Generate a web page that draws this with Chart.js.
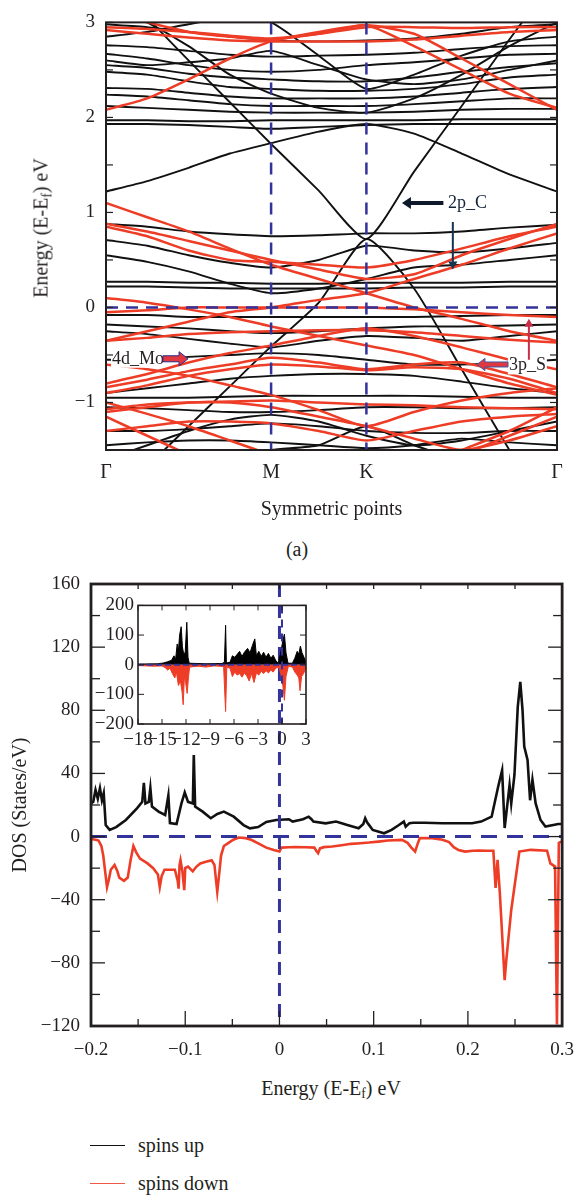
<!DOCTYPE html>
<html>
<head>
<meta charset="utf-8">
<script src="https://cdn.jsdelivr.net/npm/chart.js@4.4.1/dist/chart.umd.min.js"></script>
<style>
  body { margin: 0; width: 587px; height: 1198px; position: relative; background: #fff; overflow: hidden;
         font-family: "Liberation Serif", "DejaVu Serif", serif; color: #231f20; }
  .box { position: absolute; }
  .lbl { position: absolute; font-size: 20px; white-space: nowrap; transform: translate(-50%, -50%); }
  .lbl.rot { transform: translate(-50%, -50%) rotate(-90deg); }
  sub { font-size: 68%; vertical-align: -0.28em; line-height: 0; }
  .key { position: absolute; left: 90px; width: 35px; height: 0; }
  .keytext { position: absolute; left: 138px; font-size: 20px; transform: translateY(-50%); }
</style>
</head>
<body>
<div class="box" style="left:0;top:0;width:587px;height:530px"><canvas id="bands"></canvas></div>
<div class="lbl rot" style="left:41px;top:228px">Energy (E-E<sub>f</sub>) eV</div>
<div class="lbl" style="left:297px;top:549px">(a)</div>

<div class="box" style="left:0;top:560px;width:587px;height:506px"><canvas id="dos"></canvas></div>
<div class="box" style="left:86px;top:590px;width:231px;height:164px"><canvas id="inset"></canvas></div>
<div class="lbl" style="left:331px;top:1088px">Energy (E-E<sub>f</sub>) eV</div>

<div class="key" style="top:1145px;border-top:1.5px solid #111"></div>
<div class="keytext" style="top:1145px">spins up</div>
<div class="key" style="top:1183px;border-top:1.5px solid #ee5a45"></div>
<div class="keytext" style="top:1183px">spins down</div>

<script>
// ---- band structure: k path and band energies (eV) ----
const kPath = [0, 0.1443, 0.2887, 0.4330, 0.5774, 0.7440, 0.9107, 1.0774, 1.2440, 1.4107, 1.5773];
const symK = [0, 0.5774, 0.9107, 1.5773];
const symLabels = ['Γ', 'M', 'K', 'Γ'];

const blackBands = [
  [3.5, 3.05, 2.6, 2.16, 1.72, 1.23, 0.72, 1.43, 2.12, 2.82, 3.5],
  [-2.0, -1.67, -1.25, -0.83, -0.41, 0.05, 0.72, 0.2, -0.65, -1.5, -2.3],
  [1.22, 1.33, 1.47, 1.62, 1.73, 1.85, 1.93, 1.83, 1.62, 1.4, 1.22],
  [2.98, 2.95, 2.9, 2.85, 2.81, 2.8, 2.81, 2.83, 2.88, 2.95, 2.98],
  [2.76, 2.74, 2.7, 2.66, 2.64, 2.65, 2.66, 2.68, 2.72, 2.75, 2.76],
  [2.67, 2.62, 2.55, 2.5, 2.48, 2.5, 2.55, 2.58, 2.62, 2.66, 2.67],
  [2.55, 2.52, 2.46, 2.42, 2.4, 2.38, 2.38, 2.42, 2.48, 2.53, 2.57],
  [2.48, 2.45, 2.38, 2.32, 2.3, 2.28, 2.28, 2.3, 2.35, 2.42, 2.45],
  [2.31, 2.3, 2.26, 2.22, 2.2, 2.2, 2.2, 2.22, 2.26, 2.3, 2.32],
  [2.24, 2.22, 2.18, 2.14, 2.12, 2.12, 2.12, 2.14, 2.17, 2.2, 2.2],
  [2.12, 2.1, 2.08, 2.06, 2.05, 2.05, 2.05, 2.06, 2.08, 2.09, 2.09],
  [1.97, 1.97, 1.96, 1.96, 1.97, 1.97, 1.97, 1.97, 1.98, 1.98, 1.98],
  [1.93, 1.93, 1.92, 1.9, 1.88, 1.9, 1.92, 1.93, 1.93, 1.93, 1.93],
  [3.2, 3.0, 2.75, 2.45, 2.25, 2.1, 2.05, 2.2, 2.45, 2.75, 3.0],
  [2.85, 2.9, 2.98, 3.05, 3.0, 2.65, 2.3, 2.45, 2.65, 2.8, 2.85],
  [2.6, 2.55, 2.58, 2.62, 2.7, 2.55, 2.4, 2.35, 2.4, 2.5, 2.6],
  [0.88, 0.85, 0.8, 0.77, 0.75, 0.76, 0.78, 0.78, 0.8, 0.84, 0.87],
  [0.71, 0.65, 0.55, 0.47, 0.42, 0.5, 0.65, 0.6, 0.58, 0.62, 0.68],
  [0.55, 0.48, 0.38, 0.25, 0.15, 0.2, 0.3, 0.42, 0.45, 0.5, 0.55],
  [0.27, 0.27, 0.26, 0.26, 0.25, 0.25, 0.26, 0.26, 0.26, 0.27, 0.27],
  [0.22, 0.22, 0.21, 0.2, 0.2, 0.2, 0.2, 0.21, 0.21, 0.22, 0.22],
  [-0.08, -0.08, -0.1, -0.1, -0.1, -0.1, -0.1, -0.1, -0.09, -0.08, -0.08],
  [-0.18, -0.2, -0.22, -0.25, -0.27, -0.25, -0.22, -0.2, -0.2, -0.19, -0.18],
  [-0.25, -0.28, -0.33, -0.38, -0.42, -0.35, -0.3, -0.32, -0.35, -0.3, -0.25],
  [-0.55, -0.55, -0.52, -0.5, -0.48, -0.5, -0.55, -0.6, -0.6, -0.58, -0.55],
  [-0.9, -0.85, -0.8, -0.75, -0.72, -0.7, -0.7, -0.72, -0.78, -0.85, -0.9],
  [-0.95, -0.95, -0.95, -0.94, -0.93, -0.93, -0.93, -0.93, -0.94, -0.95, -0.95],
  [-1.6, -1.45, -1.3, -1.18, -1.13, -1.2, -1.35, -1.45, -1.4, -1.3, -1.2],
  [-1.05, -1.06, -1.08, -1.1, -1.1, -1.08, -1.05, -1.05, -1.06, -1.06, -1.05],
  [-1.3, -1.3, -1.28, -1.25, -1.22, -1.25, -1.3, -1.32, -1.32, -1.3, -1.3],
  [-1.9, -1.8, -1.7, -1.6, -1.5, -1.45, -1.25, -1.45, -1.6, -1.7, -1.8],
  [-1.45, -1.42, -1.4, -1.4, -1.42, -1.45, -1.48, -1.45, -1.38, -1.42, -1.45]
];

const redBands = [
  [2.92, 2.88, 2.84, 2.81, 2.8, 2.8, 2.8, 2.82, 2.86, 2.9, 2.92],
  [2.95, 2.93, 2.9, 2.86, 2.83, 2.88, 2.95, 2.95, 2.94, 2.95, 2.95],
  [2.08, 2.2, 2.4, 2.62, 2.8, 2.9, 2.97, 2.88, 2.62, 2.35, 2.08],
  [3.1, 3.0, 2.9, 2.85, 2.82, 2.88, 2.97, 2.75, 2.5, 2.25, 2.1],
  [0.88, 0.8, 0.7, 0.6, 0.5, 0.4, 0.3, 0.35, 0.55, 0.72, 0.88],
  [0.85, 0.75, 0.6, 0.5, 0.48, 0.45, 0.42, 0.5, 0.62, 0.75, 0.85],
  [1.1, 0.95, 0.8, 0.62, 0.45, 0.3, 0.15, 0.0, -0.12, -0.25, -0.35],
  [-0.35, -0.25, -0.15, -0.05, 0.0, 0.08, 0.15, 0.3, 0.45, 0.62, 0.78],
  [-0.05, -0.03, 0.0, 0.0, 0.0, 0.0, 0.0, -0.02, -0.05, -0.08, -0.1],
  [-0.35, -0.32, -0.28, -0.26, -0.25, -0.24, -0.24, -0.26, -0.3, -0.34, -0.37],
  [-0.8, -0.7, -0.58, -0.48, -0.4, -0.3, -0.22, -0.3, -0.42, -0.55, -0.65],
  [-0.84, -0.76, -0.67, -0.6, -0.53, -0.58, -0.65, -0.6, -0.58, -0.7, -0.84],
  [-0.9, -0.82, -0.72, -0.65, -0.6, -0.62, -0.66, -0.63, -0.65, -0.75, -0.9],
  [-1.0, -1.12, -1.25, -1.4, -1.55, -1.7, -1.85, -1.7, -1.5, -1.3, -1.05],
  [-0.6, -0.65, -0.72, -0.82, -0.92, -1.08, -1.25, -1.1, -0.98, -0.9, -0.85],
  [-1.1, -1.05, -1.0, -1.0, -1.05, -1.15, -1.25, -1.38, -1.5, -1.4, -1.25],
  [-1.07, -1.02, -1.0, -0.99, -0.98, -1.0, -1.02, -1.03, -1.05, -1.06, -1.07],
  [-1.15, -1.35, -1.55, -1.75, -1.9, -1.9, -1.9, -1.75, -1.55, -1.35, -1.15],
  [0.1, 0.05, -0.02, -0.1, -0.2, -0.3, -0.4, -0.5, -0.65, -0.8, -0.92],
  [-1.3, -1.25, -1.2, -1.2, -1.22, -1.3, -1.4, -1.3, -1.2, -1.15, -1.12]
];

// ---- DOS (States/eV) around Ef ----
const dosUpE = [-0.2, -0.1976, -0.1952, -0.1928, -0.1905, -0.1884, -0.1865, -0.1844, -0.1802, -0.1733, -0.163, -0.151,
  -0.1456, -0.1439, -0.1422, -0.1387, -0.137, -0.1353, -0.1283, -0.1213, -0.1179, -0.1162, -0.1092, -0.104, -0.1005,
  -0.097, -0.0919, -0.0909, -0.0895, -0.0815, -0.0729, -0.0659, -0.059, -0.0485, -0.0381, -0.0313, -0.0226, -0.0139,
  -0.0035, 0.01, 0.014, 0.025, 0.031, 0.034, 0.036, 0.049, 0.06, 0.066, 0.072, 0.084, 0.089, 0.091, 0.093, 0.095,
  0.099, 0.111, 0.119, 0.126, 0.132, 0.134, 0.138, 0.142, 0.154, 0.173, 0.193, 0.2044, 0.214, 0.2252, 0.2321, 0.2363,
  0.239, 0.2442, 0.246, 0.2494, 0.2529, 0.2556, 0.258, 0.2598, 0.2633, 0.266, 0.2685, 0.2719, 0.2771, 0.2823, 0.296, 0.3];
const dosUp = [21, 22, 29.5, 24, 30.7, 23, 27.5, 7.3, 4.2, 6, 10.5, 18,
  22, 34, 21, 22, 30.8, 19, 15.8, 13.7, 26, 8.6, 8, 21, 28,
  22, 21, 51.7, 19, 15.8, 11.6, 14.3, 15.8, 12.6, 7.3, 5.2, 6, 9.3,
  10.5, 11, 9.5, 11, 12.6, 11, 9.5, 8.4, 9.5, 8.5, 7.4, 5.3, 8, 11.6, 9, 7.4,
  4.2, 2.1, 4.2, 7, 9.5, 6.3, 8.5, 8.8, 8.8, 8.4, 8.4, 8.4, 9.5, 12.6, 31.6, 42,
  5.4, 32.6, 21, 39, 82, 98, 80, 57, 48.5, 23, 36, 21, 10.5, 6.3, 8, 8];

const dosDownE = [-0.2, -0.195, -0.192, -0.189, -0.187, -0.185, -0.183, -0.181, -0.179, -0.175, -0.172, -0.17, -0.165,
  -0.161, -0.158, -0.155, -0.152, -0.148, -0.14, -0.134, -0.129, -0.127, -0.125, -0.122, -0.115, -0.111, -0.108, -0.107,
  -0.106, -0.105, -0.103, -0.101, -0.1, -0.097, -0.092, -0.088, -0.084, -0.078, -0.072, -0.069, -0.066, -0.064, -0.062,
  -0.059, -0.054, -0.049, -0.043, -0.036, -0.03, -0.022, -0.014, -0.006, 0, 0.002, 0.01, 0.017, 0.028, 0.037, 0.039,
  0.041, 0.043, 0.047, 0.056, 0.066, 0.076, 0.086, 0.095, 0.105, 0.115, 0.13, 0.136, 0.14, 0.144, 0.147, 0.149, 0.162,
  0.173, 0.18, 0.185, 0.19, 0.197, 0.205, 0.212, 0.22, 0.227, 0.2294, 0.2315, 0.2339, 0.239, 0.2408, 0.246, 0.251,
  0.2546, 0.2667, 0.284, 0.2875, 0.2925, 0.2945, 0.2965, 0.3];
const dosDown = [-1.5, -2, -2.5, -6, -12, -22, -32, -27, -21, -18, -22, -26, -28,
  -26, -15, -6, -10, -14, -17, -20, -24, -32, -25, -21, -21, -21, -28, -33,
  -18, -15, -22, -34, -20, -19, -22, -19, -17, -16, -15, -18, -35, -24, -12,
  -6, -4, -2, -0.6, -1, -2, -4.5, -7, -8.5, -9.5, -7, -6.8, -6.7, -6.8, -7, -9,
  -10.5, -7.5, -6.7, -6.3, -5.5, -4.6, -4.2, -3.8, -3.2, -2.5, -2.1, -4, -7, -9.5, -4, -1, -1,
  -2, -3.5, -6.7, -8.5, -9.5, -9, -8.8, -9, -9, -32.6, -14.8, -35.7, -91, -78, -46.5, -25,
  -9.5, -8.4, -9, -17, -19, -119, -4, -3];

// ---- inset: full energy range ----
const insetUpE = [-18, -15.5, -14.8, -14.3, -13.8, -13.5, -13.3, -13.1, -12.95, -12.8, -12.6, -12.45, -12.3, -12.1,
  -11.9, -11.75, -11.6, -9.5, -7.5, -7.2, -7.05, -6.95, -6.5, -6.2, -5.9, -5.6, -5.3, -5.0, -4.7, -4.3, -4.0, -3.7,
  -3.4, -3.2, -2.9, -2.6, -2.3, -2.0, -1.7, -1.4, -1.1, -0.8, -0.5, -0.2, 0.1, 0.3, 0.5, 0.75, 1.3, 1.6, 1.9, 2.1,
  2.3, 2.5, 2.75, 3.0];
const insetUp = [2, 3, 6, 10, 15, 30, 18, 70, 45, 100, 128, 60, 38, 40,
  143, 25, 5, 3, 4, 8, 133, 6, 8, 30, 25, 35, 45, 28, 42, 55, 40, 65,
  87, 30, 45, 28, 42, 25, 38, 22, 32, 15, 5, 35, 80, 103, 40, 5, 5, 22, 45, 35,
  63, 40, 25, 10];
const insetDownE = [-18, -16, -15, -14.6, -14.3, -14.0, -13.7, -13.4, -13.2, -12.95, -12.7, -12.5, -12.35, -12.2,
  -12.05, -11.85, -11.7, -11.55, -10.5, -9.5, -8.5, -7.3, -7.05, -6.9, -6.5, -6.2, -5.9, -5.6, -5.3, -5.0, -4.7,
  -4.4, -4.1, -3.8, -3.5, -3.2, -2.9, -2.6, -2.3, -2.0, -1.7, -1.4, -1.1, -0.8, -0.4, -0.1, 0.1, 0.3, 0.5, 0.8,
  1.3, 1.6, 1.9, 2.1, 2.25, 2.45, 2.7, 3.0];
const insetDown = [-3, -5, -4, -10, -18, -12, -30, -45, -25, -70, -55, -90, -135, -40,
  -60, -97, -45, -8, -5, -8, -4, -6, -158, -8, -12, -40, -25, -35, -30, -42, -28,
  -38, -55, -30, -60, -28, -35, -22, -30, -20, -28, -18, -25, -12, -8, -35, -70, -120, -40, -5,
  -8, -25, -35, -45, -88, -40, -30, -10];

const RED = '#ee3d26';
const BLUE = '#33339c';
const INK = '#231f20';
Chart.defaults.font.family = '"Liberation Serif", "DejaVu Serif", serif';
Chart.defaults.color = INK;

function fmt(v, dp) {
  const r = Math.round(v * 1000) / 1000;
  if (r === 0) return '0';
  const s = dp ? Math.abs(r).toFixed(dp) : String(Math.abs(r));
  return (r < 0 ? '\u2212' : '') + s;
}

function arrow(ctx, x1, y1, x2, y2, w, fill, edge, head) {
  const ang = Math.atan2(y2 - y1, x2 - x1), len = Math.hypot(x2 - x1, y2 - y1);
  const hw = w / 2 + head * 0.45;
  ctx.save();
  ctx.translate(x1, y1);
  ctx.rotate(ang);
  ctx.beginPath();
  ctx.moveTo(0, -w / 2);
  ctx.lineTo(len - head, -w / 2);
  ctx.lineTo(len - head, -hw);
  ctx.lineTo(len, 0);
  ctx.lineTo(len - head, hw);
  ctx.lineTo(len - head, w / 2);
  ctx.lineTo(0, w / 2);
  ctx.closePath();
  ctx.fillStyle = fill;
  ctx.fill();
  if (edge) { ctx.strokeStyle = edge; ctx.lineWidth = 1; ctx.stroke(); }
  ctx.restore();
}

// frame, inward ticks, dashed reference lines and labels
const frameTicks = {
  id: 'frameTicks',
  afterDatasetsDraw(chart, args, o) {
    const {ctx, chartArea: a} = chart;
    const xs = chart.scales.x, ys = chart.scales.y;
    const seg = (x1, y1, x2, y2) => { ctx.beginPath(); ctx.moveTo(x1, y1); ctx.lineTo(x2, y2); ctx.stroke(); };
    ctx.save();
    ctx.strokeStyle = BLUE;
    ctx.lineWidth = o.refWidth;
    ctx.setLineDash(o.vDash);
    (o.vLines || []).forEach(v => { const p = xs.getPixelForValue(v); seg(p, a.top, p, a.bottom); });
    ctx.setLineDash(o.hDash);
    (o.hLines || []).forEach(v => { const p = ys.getPixelForValue(v); seg(a.left, p, a.right, p); });
    ctx.setLineDash([]);

    (o.notes || []).forEach(n => {
      if (n.text) {
        const px = xs.getPixelForValue(n.at[0]), py = ys.getPixelForValue(n.at[1]);
        ctx.font = '18px "Liberation Serif", serif';
        const w = ctx.measureText(n.text).width;
        ctx.fillStyle = '#fff';
        ctx.fillRect(px - 1, py - 9, w + 2, 18);
        ctx.fillStyle = n.color;
        ctx.textBaseline = 'middle';
        ctx.fillText(n.text, px, py);
      } else {
        arrow(ctx, xs.getPixelForValue(n.from[0]), ys.getPixelForValue(n.from[1]),
          xs.getPixelForValue(n.to[0]), ys.getPixelForValue(n.to[1]), n.w, n.fill, n.edge, n.head);
      }
    });

    ctx.strokeStyle = INK;
    ctx.lineWidth = o.tickWidth;
    ys.ticks.forEach(t => {
      const p = ys.getPixelForValue(t.value);
      const L = t.label !== '' ? o.yMajor : o.yMinor;
      seg(a.left, p, a.left + L, p);
      seg(a.right, p, a.right - L, p);
    });
    if (o.xMajor) {
      xs.ticks.forEach(t => {
        const p = xs.getPixelForValue(t.value);
        const L = t.label !== '' ? o.xMajor : o.xMinor;
        seg(p, a.bottom, p, a.bottom - L);
        seg(p, a.top, p, a.top + o.xTop);
      });
    }
    ctx.lineWidth = o.frameWidth;
    ctx.strokeRect(a.left, a.top, a.right - a.left, a.bottom - a.top);
    ctx.restore();
  }
};

// ---------- (a) band structure ----------
function bandSet(vals, color, width) {
  return {
    data: vals.map((e, i) => ({x: kPath[i], y: e})),
    borderColor: color, borderWidth: width, pointRadius: 0, tension: 0.2, clip: 0, fill: false
  };
}
const bandDatasets = [
  ...redBands.map(b => bandSet(b, RED, 2.5)),
  ...blackBands.map(b => bandSet(b, '#111', 1.9))
];

new Chart(document.getElementById('bands'), {
  type: 'line',
  data: {datasets: bandDatasets},
  options: {
    responsive: true, maintainAspectRatio: false, animation: false,
    layout: {padding: {left: 0, top: 15, right: 30, bottom: 0}},
    plugins: {
      legend: {display: false}, tooltip: {enabled: false},
      frameTicks: {
        refWidth: 2.5, vDash: [12, 8], hDash: [12, 8],
        vLines: [symK[1], symK[2]], hLines: [0],
        yMajor: 7, yMinor: 7, xMajor: 0, tickWidth: 1.2, frameWidth: 2,
        notes: [
          {from: [1.18, 1.10], to: [1.035, 1.10], w: 4, fill: '#0e1a2c', head: 9},
          {from: [1.213, 0.90], to: [1.213, 0.40], w: 2, fill: '#17344f', head: 8},
          {at: [1.196, 1.10], text: '2p_C', color: '#14233a'},
          {at: [0.021, -0.54], text: '4d_Mo', color: '#231f20'},
          {from: [0.199, -0.54], to: [0.287, -0.54], w: 6, fill: '#e0383e', edge: '#2a2a8a', head: 9},
          {at: [1.409, -0.61], text: '3p_S', color: '#231f20'},
          {from: [1.406, -0.60], to: [1.2975, -0.60], w: 5, fill: '#e0383e', edge: '#3a5aa8', head: 8},
          {from: [1.479, -0.55], to: [1.479, -0.12], w: 2, fill: '#c8304a', head: 8}
        ]
      }
    },
    scales: {
      x: {
        type: 'linear', min: 0, max: symK[3],
        grid: {display: false, drawTicks: false}, border: {display: false},
        afterBuildTicks: s => { s.ticks = symK.map(v => ({value: v})); },
        afterFit: s => { s.height = 80; },
        ticks: {padding: 11, autoSkip: false, maxRotation: 0, font: {size: 20},
                callback: (v, i) => symLabels[i]},
        title: {display: true, text: 'Symmetric points', font: {size: 20}, padding: {top: 0, bottom: 8}}
      },
      y: {
        min: -1.5, max: 3,
        grid: {display: false, drawTicks: false}, border: {display: false},
        afterFit: s => { s.width = 106; },
        ticks: {stepSize: 0.5, padding: 11, font: {size: 19},
                callback: v => Number.isInteger(Math.round(v * 100) / 100) ? fmt(v) : ''}
      }
    }
  },
  plugins: [frameTicks]
});

// ---------- DOS ----------
new Chart(document.getElementById('dos'), {
  type: 'line',
  data: {
    datasets: [
      {label: 'spins down', data: dosDownE.map((e, i) => ({x: e, y: dosDown[i]})),
       borderColor: RED, borderWidth: 2.6, pointRadius: 0, tension: 0, clip: 0},
      {label: 'spins up', data: dosUpE.map((e, i) => ({x: e, y: dosUp[i]})),
       borderColor: '#111', borderWidth: 2.6, pointRadius: 0, tension: 0, clip: 0}
    ]
  },
  options: {
    responsive: true, maintainAspectRatio: false, animation: false,
    layout: {padding: {left: 0, top: 24, right: 15, bottom: 0}},
    plugins: {
      legend: {display: false}, tooltip: {enabled: false},
      frameTicks: {
        refWidth: 3, vDash: [13, 8], hDash: [16, 10],
        vLines: [0], hLines: [0],
        yMajor: 14, yMinor: 9, xMajor: 15, xMinor: 7, xTop: 5, tickWidth: 1.3, frameWidth: 2.8
      }
    },
    scales: {
      x: {
        type: 'linear', min: -0.2, max: 0.3,
        grid: {display: false, drawTicks: false}, border: {display: false},
        afterFit: s => { s.height = 40; },
        ticks: {stepSize: 0.05, padding: 13, autoSkip: false, maxRotation: 0, font: {size: 19},
                callback: v => Math.round(v * 100) % 10 === 0 ? fmt(v, Math.round(v * 100) === 0 ? 0 : 1) : ''}
      },
      y: {
        min: -120, max: 160,
        grid: {display: false, drawTicks: false}, border: {display: false},
        afterFit: s => { s.width = 91; },
        ticks: {stepSize: 20, padding: 11, font: {size: 19},
                callback: v => Math.round(v) % 40 === 0 ? fmt(v) : ''},
        title: {display: true, text: 'DOS (States/eV)', font: {size: 20}, padding: {top: 9, bottom: 0}}
      }
    }
  },
  plugins: [frameTicks]
});

// ---------- inset ----------
new Chart(document.getElementById('inset'), {
  type: 'line',
  data: {
    datasets: [
      {data: insetDownE.map((e, i) => ({x: e, y: insetDown[i]})), borderColor: RED, backgroundColor: RED,
       borderWidth: 1, pointRadius: 0, tension: 0, fill: 'origin', clip: 0},
      {data: insetUpE.map((e, i) => ({x: e, y: insetUp[i]})), borderColor: '#000', backgroundColor: '#000',
       borderWidth: 1, pointRadius: 0, tension: 0, fill: 'origin', clip: 0}
    ]
  },
  options: {
    responsive: true, maintainAspectRatio: false, animation: false,
    layout: {padding: {left: 0, top: 8, right: 11, bottom: 0}},
    plugins: {
      legend: {display: false}, tooltip: {enabled: false},
      frameTicks: {
        refWidth: 2, vDash: [8, 6], hDash: [6, 3],
        vLines: [0], hLines: [0],
        yMajor: 6, yMinor: 4, xMajor: 5, xMinor: 5, xTop: 5, tickWidth: 1, frameWidth: 1.6
      }
    },
    scales: {
      x: {
        type: 'linear', min: -18, max: 3,
        grid: {display: false, drawTicks: false}, border: {display: false},
        afterFit: s => { s.height = 30; },
        ticks: {stepSize: 3, padding: 5, autoSkip: false, maxRotation: 0, font: {size: 19},
                callback: v => fmt(v)}
      },
      y: {
        min: -200, max: 200,
        grid: {display: false, drawTicks: false}, border: {display: false},
        afterFit: s => { s.width = 52; },
        ticks: {stepSize: 50, padding: 4, font: {size: 19},
                callback: v => Math.round(v) % 100 === 0 ? fmt(v) : ''}
      }
    }
  },
  plugins: [frameTicks]
});
</script>
</body>
</html>
